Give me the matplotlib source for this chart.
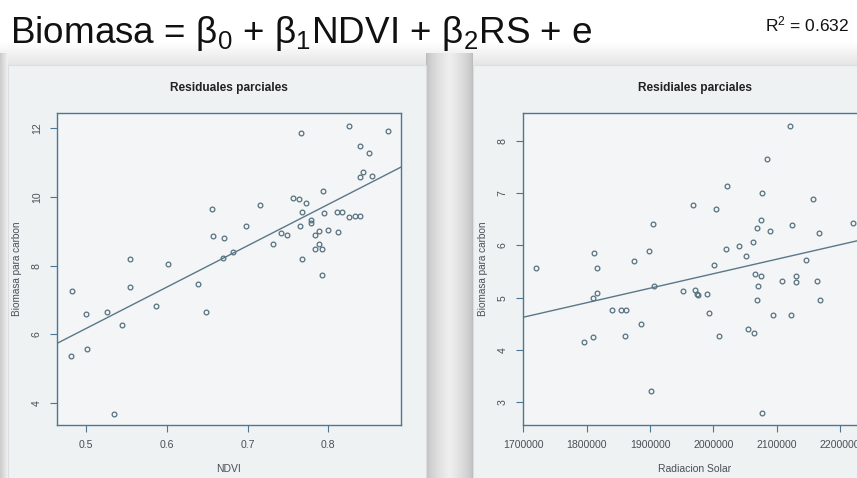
import matplotlib
matplotlib.use("Agg")
import numpy as np
import matplotlib.pyplot as plt
from matplotlib.patches import Rectangle

plt.rcParams['font.family'] = ['Liberation Sans', 'DejaVu Sans']
plt.rcParams['mathtext.fontset'] = 'custom'
plt.rcParams['mathtext.rm'] = 'Liberation Sans'
plt.rcParams['mathtext.it'] = 'Liberation Sans'

# Panel 1: NDVI partial residuals
ndvi = [0.826, 0.874, 0.766, 0.839, 0.850, 0.843, 0.839, 0.854, 0.793, 0.656,
        0.716, 0.756, 0.764, 0.772, 0.768, 0.795, 0.811, 0.817, 0.825, 0.833,
        0.839, 0.698, 0.779, 0.779, 0.765, 0.657, 0.671, 0.741, 0.749, 0.783,
        0.789, 0.800, 0.812, 0.731, 0.789, 0.783, 0.792, 0.682, 0.669, 0.767,
        0.555, 0.601, 0.792, 0.482, 0.554, 0.639, 0.500, 0.526, 0.587, 0.649,
        0.545, 0.501, 0.481, 0.534]
biomasa_ndvi = [12.07, 11.92, 11.86, 11.48, 11.28, 10.73, 10.58, 10.61, 10.17, 9.66,
                9.76, 9.97, 9.93, 9.83, 9.55, 9.54, 9.57, 9.57, 9.41, 9.46,
                9.46, 9.14, 9.32, 9.24, 9.15, 8.86, 8.80, 8.96, 8.90, 8.90,
                9.01, 9.04, 8.97, 8.63, 8.63, 8.47, 8.49, 8.41, 8.22, 8.18,
                8.20, 8.04, 7.72, 7.25, 7.37, 7.47, 6.58, 6.66, 6.81, 6.64,
                6.26, 5.56, 5.37, 3.68]
ndvi_fit = (0.13, 12.07)  # intercept, slope
ndvi_xticks = [0.5, 0.6, 0.7, 0.8]
ndvi_yticks = [4, 6, 8, 10, 12]

# Panel 2: solar radiation partial residuals
rs = [2121300, 2083900, 2021300, 2076600, 2157200, 1967600, 2004400, 1904400,
      2075500, 2068700, 2088600, 2124000, 2167100, 2220300, 2063300, 2039700,
      2019700, 1899000, 1812200, 2051800, 1875400, 2145500, 2001700, 1720100,
      1816400, 2066000, 2074400, 2070800, 2108200, 2129700, 2130300, 2164000,
      1906500, 1952300, 1971300, 1973900, 1976000, 1990700, 1816400, 1810600,
      2068100, 2167600, 1840600, 1854800, 1862700, 1993400, 2093400, 2122400,
      1885500, 2053900, 2064500, 1860100, 2008700, 1810600, 1795400, 1901300,
      2076600]
biomasa_rs = [8.29, 7.65, 7.13, 7.01, 6.89, 6.77, 6.69, 6.41,
              6.48, 6.33, 6.27, 6.39, 6.23, 6.43, 6.07, 5.99,
              5.94, 5.90, 5.86, 5.80, 5.71, 5.73, 5.62, 5.57,
              5.57, 5.45, 5.42, 5.23, 5.32, 5.41, 5.31, 5.33,
              5.22, 5.13, 5.15, 5.07, 5.05, 5.08, 5.10, 5.00,
              4.96, 4.95, 4.76, 4.76, 4.77, 4.71, 4.68, 4.68,
              4.49, 4.41, 4.32, 4.27, 4.27, 4.25, 4.16, 3.21,
              2.79]
rs_fit = (-0.08, 2.77e-6)
rs_xticks = [1700000, 1800000, 1900000, 2000000, 2100000, 2200000]
rs_yticks = [3, 4, 5, 6, 7, 8]

W, H = 857, 478
fig = plt.figure(figsize=(W / 100, H / 100), dpi=100)
fig.patch.set_facecolor('#fdfdfd')


def px(x, y, w, h):
    # pixel box (top-left origin) -> figure fraction
    return [x / W, 1 - (y + h) / H, w / W, h / H]


bg = fig.add_axes([0, 0, 1, 1])
bg.set_xlim(0, W)
bg.set_ylim(H, 0)
bg.axis('off')

# slide background: white top, grey shading around the two screenshots
shade = np.ones((H, W))
yy = np.arange(H)[:, None]
xx = np.arange(W)[None, :]
top = np.clip((yy - 42) / 22.0, 0, 1)
shade = shade - 0.10 * top
gap = (xx >= 426) & (xx <= 472)
d_gap = np.minimum(np.abs(xx - 426), np.abs(xx - 472)) / 23.0
shade = np.where(gap & (yy > 52), 0.74 + 0.20 * np.clip(d_gap, 0, 1) ** 0.6, shade)
left = xx < 8
shade = np.where(left & (yy > 52), 0.80 + 0.02 * xx, shade)
rgb = np.dstack([shade, shade, shade])
bg.imshow(rgb, extent=(0, W, H, 0), aspect='auto', interpolation='bilinear')

for x0, w0 in [(8, 418), (473, 400)]:
    bg.add_patch(Rectangle((x0, 65), w0, 420, facecolor='#eff2f3',
                           edgecolor='#dcdedf', lw=0.8))

bg.text(10, 43, r'Biomasa = β$_0$ + β$_1$NDVI + β$_2$RS + e', fontsize=26.6,
        color='#111111', va='baseline', ha='left')
bg.text(765, 31, r'R$^2$ = 0.632', fontsize=12.5, color='#111111',
        va='baseline', ha='left')

axis_col = '#4b7890'
pt_col = '#55707f'
tick_col = '#4a4f55'


def resid_panel(rect, x, y, fit, xlim, ylim, xticks, yticks, title, xlabel):
    ax = fig.add_axes(rect)
    ax.set_facecolor('#f3f5f6')
    ax.plot(x, y, 'o', ms=3.4, mfc='none', mec=pt_col, mew=0.9)
    a, b = fit
    ax.plot(xlim, [a + b * xlim[0], a + b * xlim[1]], color='#5a7888', lw=1.0)
    ax.set_xlim(xlim)
    ax.set_ylim(ylim)
    ax.set_xticks(xticks)
    ax.set_yticks(yticks)
    ax.set_xticklabels([str(t) for t in xticks])
    ax.set_yticklabels([str(t) for t in yticks], rotation=90, va='center')
    ax.tick_params(direction='out', length=5, width=0.8, colors=axis_col,
                   labelcolor=tick_col, labelsize=7.6, pad=6)
    for s in ax.spines.values():
        s.set_color(axis_col)
        s.set_linewidth(1.0)
    ax.set_title(title, fontsize=8.6, fontweight='bold', color='#222222', pad=16)
    ax.set_xlabel(xlabel, fontsize=7.5, color=tick_col, labelpad=10)
    ax.set_ylabel('Biomasa para carbon', fontsize=7.2, color=tick_col, labelpad=7)
    return ax


resid_panel(px(57, 113, 344, 312), ndvi, biomasa_ndvi, ndvi_fit,
            (0.464, 0.890), (3.35, 12.45), ndvi_xticks, ndvi_yticks,
            'Residuales parciales', 'NDVI')
resid_panel(px(522.7, 113, 344, 312), rs, biomasa_rs, rs_fit,
            (1699000, 2242000), (2.57, 8.53), rs_xticks, rs_yticks,
            'Residiales parciales', 'Radiacion Solar')

fig.savefig('out.png', dpi=100)
